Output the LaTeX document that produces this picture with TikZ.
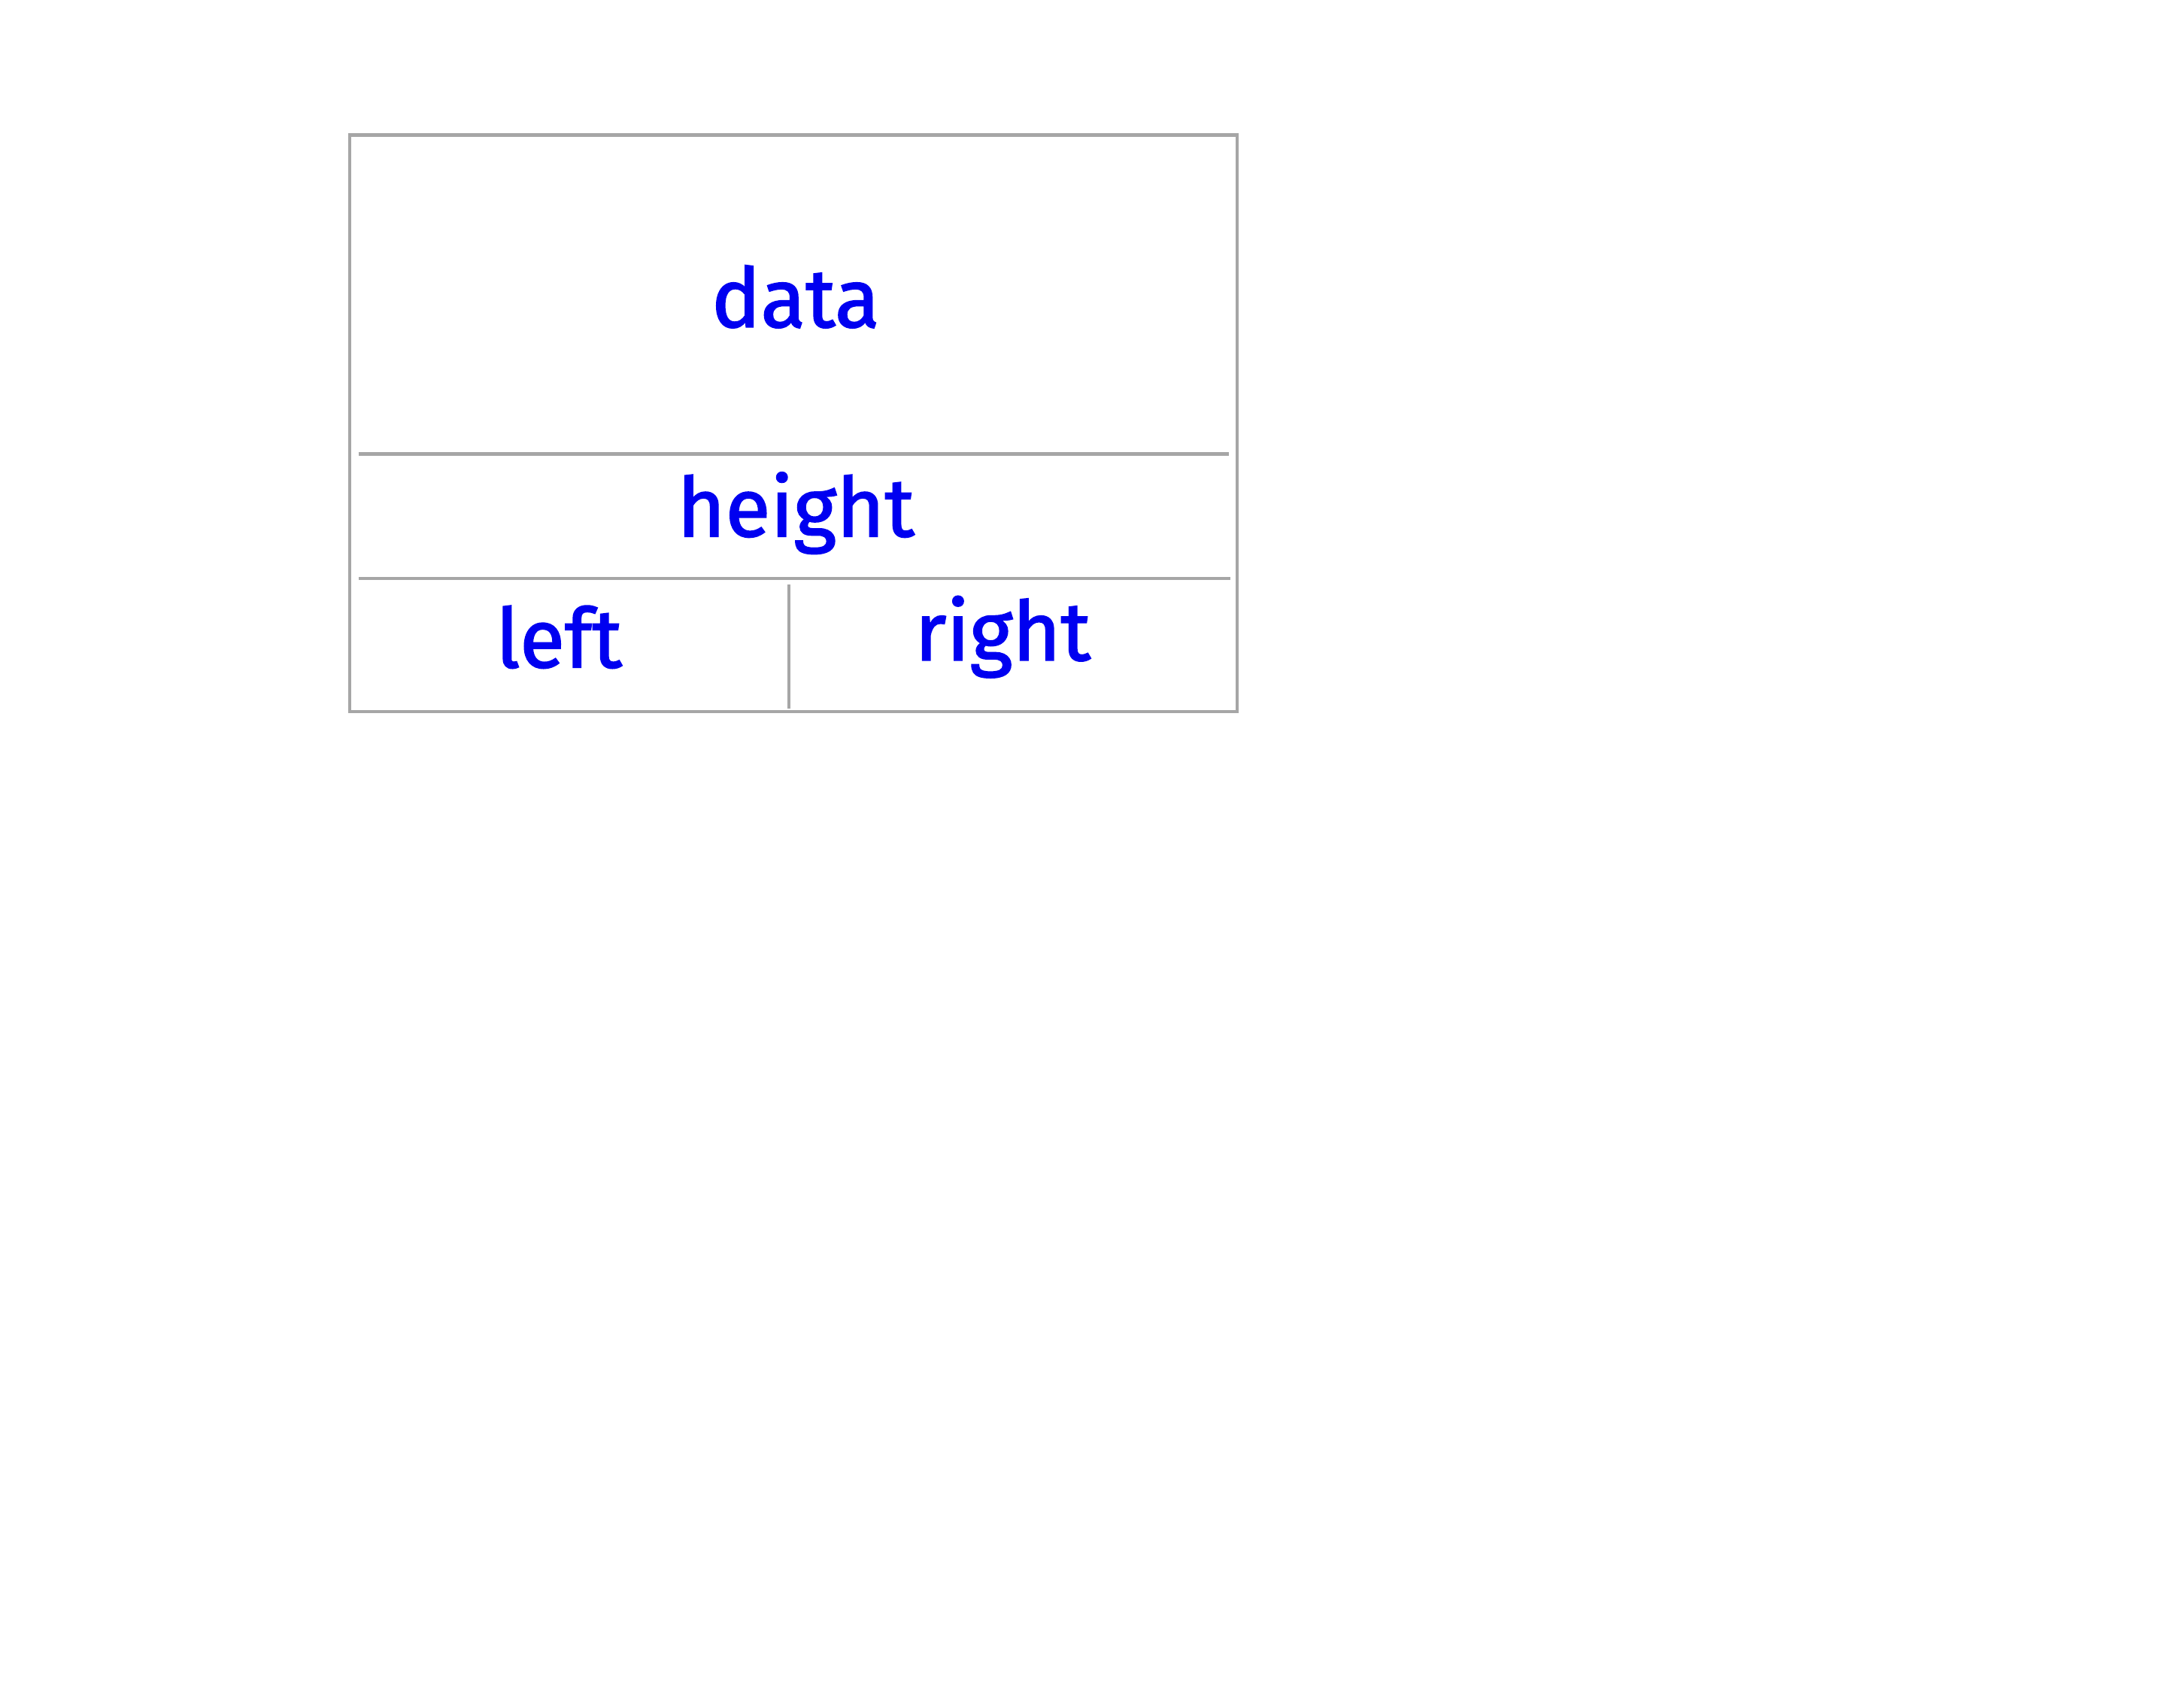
\documentclass[tikz,border=0pt]{standalone}
\usepackage{fontspec}
\setmainfont{Fira Sans}
\newfontfamily\lblfont{Fira Sans}[FakeBold=1.6]
\definecolor{linegray}{HTML}{A6A6A6}
\definecolor{txtblue}{HTML}{0000F0}
\tikzset{
  cellline/.style={draw=linegray, line width=1.3bp},
  lbl/.style={text=txtblue, font=\lblfont\fontsize{30}{36}\selectfont, anchor=base, inner sep=0pt}
}
\begin{document}
\begin{tikzpicture}[x=1bp,y=-1bp]
\useasboundingbox (0,0) rectangle (792,612);
\draw[cellline] (126.8,49) rectangle (448.6,258);
\coordinate (h1l) at (130,164.5);
\coordinate (h1r) at (445.5,164.5);
\coordinate (h2l) at (130,209.7);
\coordinate (h2r) at (446.2,209.7);
\coordinate (vt) at (286,212);
\coordinate (vb) at (286,257);
\draw[cellline] (h1l) -- (h1r);
\draw[cellline] (h2l) -- (h2r);
\draw[cellline, line width=1bp] (vt) -- (vb);
\node[lbl] (data) at (288.5,118.6) {data};
\node[lbl] (height) at (288.6,194.5) {height};
\node[lbl] (left) at (202.7,242) {left};
\node[lbl] (right) at (363.6,239.4) {right};
\end{tikzpicture}
\end{document}
